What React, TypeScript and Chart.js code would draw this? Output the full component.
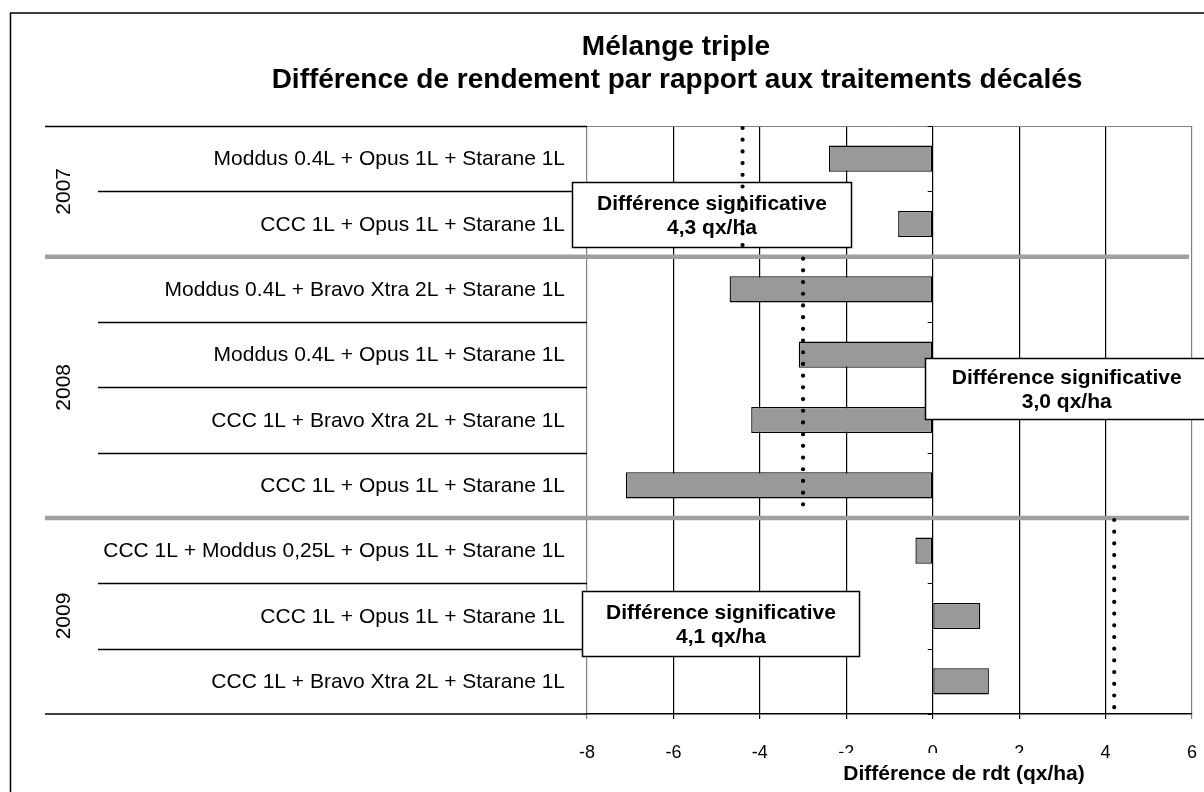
import React, { useEffect, useRef } from 'react';
import { Chart, registerables } from 'chart.js';

Chart.register(...registerables);

// ---------- data ----------
const categories = [
  'Moddus 0.4L + Opus 1L + Starane 1L',
  'CCC 1L + Opus 1L + Starane 1L',
  'Moddus 0.4L + Bravo Xtra 2L + Starane 1L',
  'Moddus 0.4L + Opus 1L + Starane 1L',
  'CCC 1L + Bravo Xtra 2L + Starane 1L',
  'CCC 1L + Opus 1L + Starane 1L',
  'CCC 1L + Moddus 0,25L + Opus 1L + Starane 1L',
  'CCC 1L + Opus 1L + Starane 1L',
  'CCC 1L + Bravo Xtra 2L + Starane 1L',
];
const yieldDiff = [-2.4, -0.8, -4.7, -3.1, -4.2, -7.1, -0.4, 1.1, 1.3];
const years = ['2007', '2008', '2009'];
const groupSizes = [2, 4, 3];
const lsdValues = [-4.4, -3.0, 4.2];
const lsdLabels = ['4,3 qx/ha', '3,0 qx/ha', '4,1 qx/ha'];
const xMin = -8;
const xMax = 6;
const xStep = 2;
const titleLines = ['Mélange triple', 'Différence de rendement par rapport aux traitements décalés'];
const xAxisTitle = 'Différence de rdt (qx/ha)';
const boxHeading = 'Différence significative';

// ---------- annotation box layout (data units / px) ----------
const boxXRange = [[-8.35, -1.9], [-0.17, 6.4], [-8.12, -1.71]];
const boxYCenter = [0.855, 3.515, 7.11];
const boxHeight = [65, 61, 65];

const FONT = '"Liberation Sans", Arial, Helvetica, sans-serif';

const decoPlugin = {
  id: 'deco',
  afterDraw(chart: any) {
    const { ctx, chartArea: a, scales } = chart;
    const x = scales.x;
    const y = scales.y;
    const rowH = y.getPixelForValue(1) - y.getPixelForValue(0);
    const rowTop = (i: number) => y.getPixelForValue(0) - rowH / 2 + i * rowH;
    const yAt = (v: number) => y.getPixelForValue(0) + v * rowH;
    ctx.save();

    // outer frame
    ctx.strokeStyle = '#000';
    ctx.lineWidth = 1.5;
    ctx.strokeRect(10.5, 13, 1230, 830);

    // titles
    ctx.fillStyle = '#000';
    ctx.textAlign = 'center';
    ctx.textBaseline = 'alphabetic';
    ctx.font = `bold 28px ${FONT}`;
    ctx.fillText(titleLines[0], 676, 55);
    ctx.fillText(titleLines[1], 677, 88);

    // plot top border
    ctx.lineWidth = 1;
    ctx.strokeStyle = '#808080';
    ctx.beginPath();
    ctx.moveTo(a.left, a.top + 0.5);
    ctx.lineTo(a.right, a.top + 0.5);
    ctx.stroke();

    // category axis lines
    ctx.strokeStyle = '#000';
    ctx.lineWidth = 1.5;
    ctx.beginPath();
    ctx.moveTo(45, a.top + 0.5);
    ctx.lineTo(a.left, a.top + 0.5);
    ctx.moveTo(45, a.bottom);
    ctx.lineTo(a.left, a.bottom);
    ctx.stroke();

    const groupBounds: number[] = [0];
    groupSizes.forEach((g) => groupBounds.push(groupBounds[groupBounds.length - 1] + g));

    ctx.lineWidth = 1.5;
    for (let i = 1; i < categories.length; i++) {
      if (groupBounds.includes(i)) continue;
      const yy = Math.round(rowTop(i)) + 0.5;
      ctx.beginPath();
      ctx.moveTo(98, yy);
      ctx.lineTo(a.left, yy);
      ctx.stroke();
    }

    // tick marks on zero axis
    const x0 = x.getPixelForValue(0);
    ctx.lineWidth = 1;
    for (let i = 0; i <= categories.length; i++) {
      const yy = Math.round(rowTop(i)) + 0.5;
      ctx.beginPath();
      ctx.moveTo(x0 - 5, yy);
      ctx.lineTo(x0, yy);
      ctx.stroke();
    }

    // group separators (gray)
    ctx.strokeStyle = '#a0a0a0';
    ctx.lineWidth = 4.5;
    for (let k = 1; k < groupBounds.length - 1; k++) {
      const yy = rowTop(groupBounds[k]);
      ctx.beginPath();
      ctx.moveTo(45, yy);
      ctx.lineTo(a.right - 3, yy);
      ctx.stroke();
    }

    // category labels
    ctx.fillStyle = '#000';
    ctx.font = `21px ${FONT}`;
    ctx.textAlign = 'right';
    ctx.textBaseline = 'middle';
    categories.forEach((c, i) => {
      ctx.fillText(c, 565, y.getPixelForValue(i) + 1);
    });

    // year labels
    years.forEach((yr, k) => {
      const top = rowTop(groupBounds[k]);
      const bot = rowTop(groupBounds[k + 1]);
      ctx.save();
      ctx.translate(64, (top + bot) / 2);
      ctx.rotate(-Math.PI / 2);
      ctx.textAlign = 'center';
      ctx.textBaseline = 'middle';
      ctx.font = `21px ${FONT}`;
      ctx.fillText(yr, 0, 0);
      ctx.restore();
    });

    // annotation boxes
    lsdLabels.forEach((lab, k) => {
      const bx1 = Math.round(x.getPixelForValue(boxXRange[k][0])) + 0.5;
      const bx2 = Math.round(x.getPixelForValue(boxXRange[k][1])) + 0.5;
      const cy = yAt(boxYCenter[k]);
      const by1 = Math.round(cy - boxHeight[k] / 2) + 0.5;
      const h = boxHeight[k];
      ctx.fillStyle = '#fff';
      ctx.fillRect(bx1, by1, bx2 - bx1, h);
      ctx.strokeStyle = '#000';
      ctx.lineWidth = 1.5;
      ctx.strokeRect(bx1, by1, bx2 - bx1, h);
      ctx.fillStyle = '#000';
      ctx.font = `bold 21px ${FONT}`;
      ctx.textAlign = 'center';
      ctx.textBaseline = 'middle';
      const cx = (bx1 + Math.min(bx2, 1208)) / 2;
      ctx.fillText(boxHeading, cx, by1 + h / 2 - 11);
      ctx.fillText(lab, cx, by1 + h / 2 + 13);
    });

    // LSD dotted lines
    ctx.strokeStyle = '#000';
    ctx.lineWidth = 4.2;
    ctx.lineCap = 'round';
    ctx.setLineDash([0, 11.7]);
    lsdValues.forEach((v, k) => {
      const px = x.getPixelForValue(v);
      const top = rowTop(groupBounds[k]) + 2;
      const bot = rowTop(groupBounds[k + 1]) - 2;
      ctx.beginPath();
      ctx.moveTo(px, top);
      ctx.lineTo(px, bot);
      ctx.stroke();
    });
    ctx.setLineDash([]);

    // x axis title (with white background)
    ctx.font = `bold 21px ${FONT}`;
    ctx.textAlign = 'center';
    ctx.textBaseline = 'middle';
    const tw = ctx.measureText(xAxisTitle).width;
    const tcx = 964;
    ctx.fillStyle = '#fff';
    ctx.fillRect(tcx - tw / 2 - 8, 753, tw + 16, 39);
    ctx.fillStyle = '#000';
    ctx.fillText(xAxisTitle, tcx, 774);

    ctx.restore();
  },
};

export default function App() {
  const ref = useRef<HTMLCanvasElement | null>(null);

  useEffect(() => {
    document.body.style.margin = '0';
    const canvas = ref.current;
    if (!canvas) return;
    const chart = new Chart(canvas, {
      type: 'bar',
      data: {
        labels: categories,
        datasets: [
          {
            data: yieldDiff,
            backgroundColor: '#999999',
            borderColor: '#000000',
            borderWidth: 1.3,
            borderSkipped: false,
            barPercentage: 0.4,
            categoryPercentage: 1,
          },
        ],
      },
      options: {
        indexAxis: 'y',
        responsive: false,
        animation: false,
        devicePixelRatio: 1,
        layout: { padding: { left: 587, top: 126, right: 12, bottom: 0 } },
        plugins: {
          legend: { display: false },
          title: { display: false },
          tooltip: { enabled: false },
        },
        scales: {
          x: {
            type: 'linear',
            min: xMin,
            max: xMax,
            ticks: {
              stepSize: xStep,
              color: '#000',
              font: { family: FONT, size: 18 },
              padding: 23,
              maxRotation: 0,
            },
            grid: {
              color: (c: any) =>
                c.tick && (c.tick.value === xMin || c.tick.value === xMax) ? '#808080' : '#000000',
              lineWidth: 1.2,
              tickLength: 5,
            },
            border: { display: true, color: '#000', width: 1.5 },
            afterFit: (s: any) => {
              s.height = 78;
              s.paddingLeft = 0;
              s.paddingRight = 0;
            },
          },
          y: {
            type: 'category',
            display: false,
            offset: true,
          },
        },
      },
      plugins: [decoPlugin],
    });
    return () => chart.destroy();
  }, []);

  return (
    <div style={{ position: 'relative', width: 1204, height: 792 }}>
      <canvas ref={ref} width={1204} height={792} style={{ display: 'block' }} />
    </div>
  );
}
